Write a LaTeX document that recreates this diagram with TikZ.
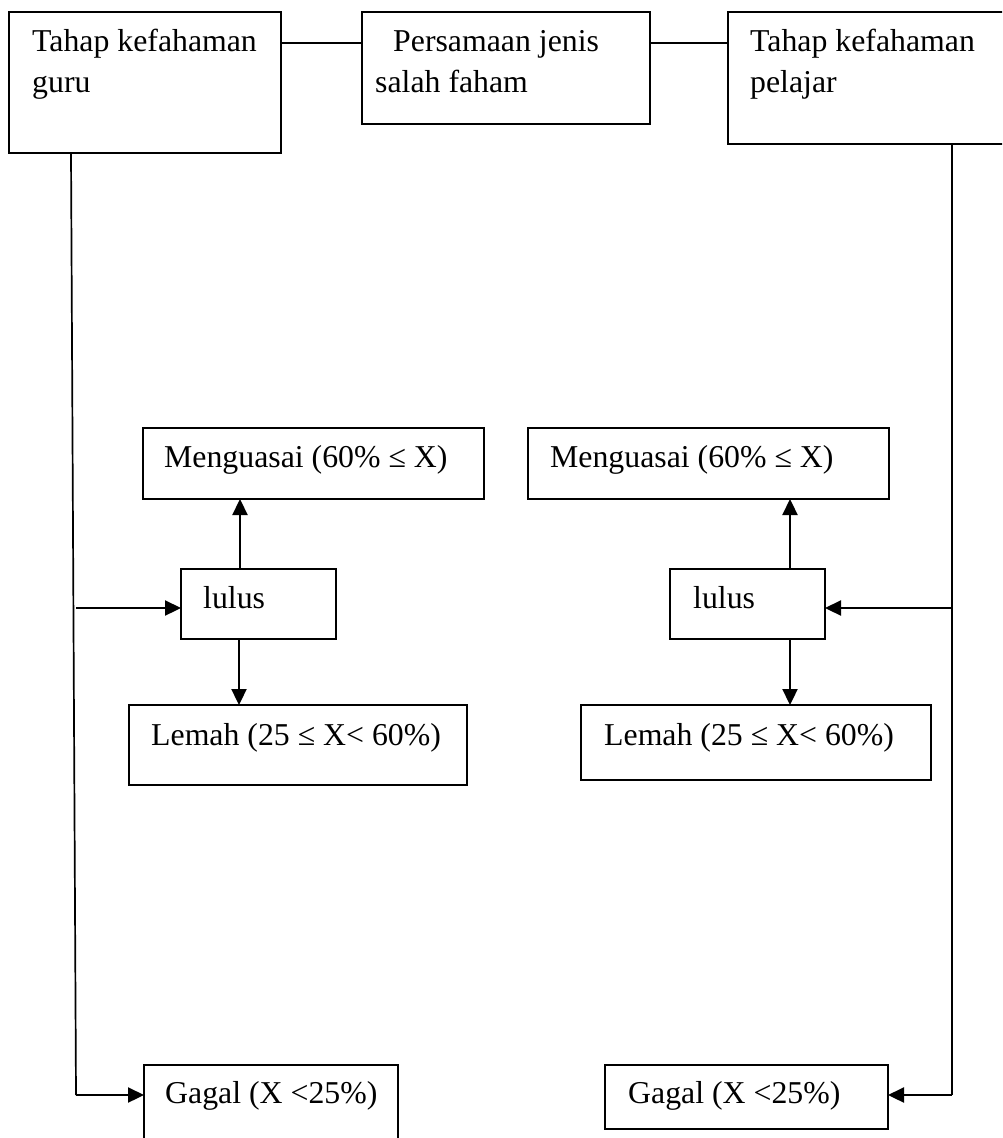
\documentclass[tikz,border=0pt]{standalone}
\usepackage{fontspec}
\setmainfont{Liberation Serif}
\usetikzlibrary{arrows.meta}
\begin{document}
\begin{tikzpicture}[x=1pt,y=-1pt,
  box/.style={draw, line width=2pt, rectangle, anchor=north west, inner sep=0pt, outer sep=0pt},
  txt/.style={anchor=base west, inner sep=0pt, font=\fontsize{31.8pt}{41pt}\selectfont},
  ln/.style={line width=1.7pt},
  arr/.style={line width=2.3pt, -{Triangle[length=16pt,width=15pt]}}]
\clip (0,0) rectangle (1002,1138);
\fill[white] (0,0) rectangle (1002,1138);
% boxes
\node[box, minimum width=272pt, minimum height=141pt] (tg) at (9,12) {};
\node[box, minimum width=288pt, minimum height=112pt] (pm) at (362,12) {};
\node[box, minimum width=290pt, minimum height=132pt] (tp) at (728,12) {};
\node[box, minimum width=341pt, minimum height=71pt] (mL) at (143,428) {};
\node[box, minimum width=361pt, minimum height=71pt] (mR) at (528,428) {};
\node[box, minimum width=155pt, minimum height=70pt] (lL) at (181,569) {};
\node[box, minimum width=155pt, minimum height=70pt] (lR) at (670,569) {};
\node[box, minimum width=338pt, minimum height=80pt] (eL) at (129,705) {};
\node[box, minimum width=350pt, minimum height=75pt] (eR) at (581,705) {};
\node[box, minimum width=254pt, minimum height=100pt] (gL) at (144,1065) {};
\node[box, minimum width=283pt, minimum height=64pt] (gR) at (605,1065) {};
% texts
\node[txt] (tg1) at (32,51) {Tahap kefahaman};
\node[txt] (tg2) at (32,92) {guru};
\node[txt] (pm1) at (393,51) {Persamaan jenis};
\node[txt] (pm2) at (375,92) {salah faham};
\node[txt] (tp1) at (750,51) {Tahap kefahaman};
\node[txt] (tp2) at (750,92) {pelajar};
\node[txt] (mLt) at (164,467) {Menguasai (60\% ≤ X)};
\node[txt] (mRt) at (550,467) {Menguasai (60\% ≤ X)};
\node[txt] (lLt) at (203,608) {lulus};
\node[txt] (lRt) at (693,608) {lulus};
\node[txt] (eLt) at (151,745) {Lemah (25 ≤ X< 60\%)};
\node[txt] (eRt) at (604,745) {Lemah (25 ≤ X< 60\%)};
\node[txt] (gLt) at (165,1103) {Gagal (X <25\%)};
\node[txt] (gRt) at (628,1103) {Gagal (X <25\%)};
% coordinates for connector free ends
\coordinate (t1) at (281,43);
\coordinate (L1) at (71,153);
\coordinate (L2) at (76,1095);
\coordinate (L3) at (76,608);
\coordinate (R1) at (952,144);
\coordinate (R2) at (952,1095);
\coordinate (R3) at (952,608);
\coordinate (a1) at (240,569);
\coordinate (a2) at (239,639);
\coordinate (b1) at (790,569);
\coordinate (b2) at (790,639);
% connectors
\draw[ln] (tg.east |- t1) -- (pm.west |- t1);
\draw[ln] (pm.east |- t1) -- (tp.west |- t1);
\draw[ln] (L1) -- (L2);
\draw[arr] (L2) -- (gL.west |- L2);
\draw[arr] (L3) -- (lL.west |- L3);
\draw[ln] (R1) -- (R2);
\draw[arr] (R2) -- (gR.east |- R2);
\draw[arr] (R3) -- (lR.east |- R3);
\draw[arr] (a1) -- (a1 |- mL.south);
\draw[arr] (a2) -- (a2 |- eL.north);
\draw[arr] (b1) -- (b1 |- mR.south);
\draw[arr] (b2) -- (b2 |- eR.north);
\end{tikzpicture}
\end{document}
